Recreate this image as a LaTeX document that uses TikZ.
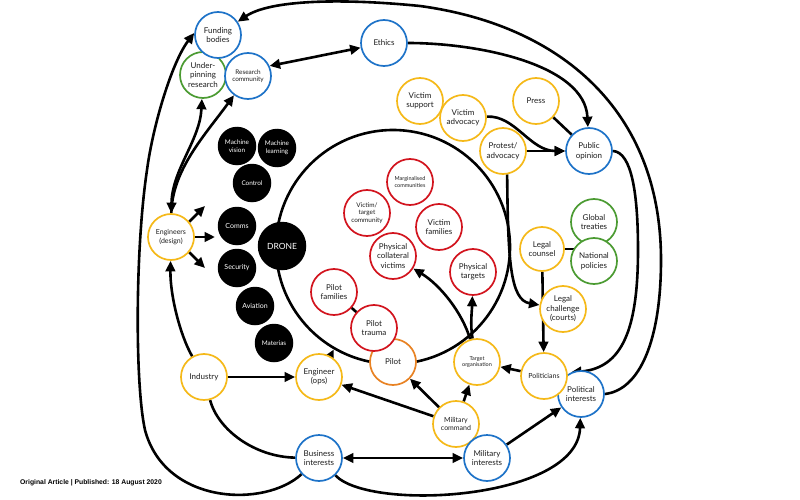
\documentclass[tikz,border=0pt]{standalone}
\usepackage{fontspec}
\setmainfont{Lato}
\newfontfamily\footfont{Liberation Sans}
\usetikzlibrary{arrows.meta}
\pgfdeclarelayer{bottom}
\pgfdeclarelayer{background}
\pgfsetlayers{bottom,background,main}
\definecolor{cblue}{RGB}{30,115,200}
\definecolor{cyellow}{RGB}{245,185,25}
\definecolor{cgreen}{RGB}{75,155,50}
\definecolor{cred}{RGB}{210,20,30}
\definecolor{corange}{RGB}{232,130,35}
\definecolor{ctext}{RGB}{30,30,30}
\begin{document}
\begin{tikzpicture}[x=1pt,y=-1pt,
  f8/.style={font=\fontsize{8}{9.5}\selectfont},
  f7/.style={font=\fontsize{7}{8.5}\selectfont},
  f65/.style={font=\fontsize{6.4}{7.6}\selectfont},
  f55/.style={font=\fontsize{5.5}{6.6}\selectfont},
  base/.style={circle, draw, line width=1.7pt, fill=white, inner sep=0pt, minimum size=46pt, align=center, f8, text=ctext},
  bl/.style={base, draw=cblue},
  ye/.style={base, draw=cyellow},
  gr/.style={base, draw=cgreen},
  rd/.style={base, draw=cred},
  orn/.style={base, draw=corange},
  blk/.style={circle, fill=black, draw=none, minimum size=38.5pt, inner sep=0pt, align=center, text=white, font=\fontsize{6.4}{7.6}\selectfont},
  conn/.style={line width=2.6pt, draw=black},
  arr/.style={conn, -{Triangle[length=10.5pt,width=9.5pt]}},
  darr/.style={conn, {Triangle[length=10.5pt,width=9.5pt]}-{Triangle[length=10.5pt,width=9.5pt]}}
]
\useasboundingbox (0,0) rectangle (800,500);
\begin{pgfonlayer}{bottom}
\fill[white] (0,0) rectangle (800,500);
\end{pgfonlayer}

% big sphere
\node[circle, draw, line width=2.6pt, minimum size=234pt, inner sep=0pt] (sphere) at (393,247) {};

% top-left cluster
\node[gr] (under) at (203,75) {Under-\\pinning\\research};
\node[bl, f65] (rescom) at (248,76) {Research\\community};
\node[bl] (fund) at (218,35) {Funding\\bodies};
\node[bl] (ethics) at (384,43) {Ethics};

% victims / public
\node[ye] (vsupp) at (420,101) {Victim\\support};
\node[ye] (vadv) at (463,118) {Victim\\advocacy};
\node[ye] (press) at (536,101) {Press};
\node[ye] (protest) at (503,151) {Protest/\\advocacy};
\node[bl] (pubop) at (589,151) {Public\\opinion};

% inside sphere
\node[rd, f55] (marg) at (410,182) {Marginalised\\communities};
\node[rd, f65] (vtc) at (367,213) {Victim/\\target\\community};
\node[rd] (vfam) at (439,227) {Victim\\families};
\node[rd] (pcv) at (393,256) {Physical\\collateral\\victims};
\node[rd] (ptar) at (473,272) {Physical\\targets};
\node[rd] (pfam) at (334,292) {Pilot\\families};
\node[orn] (pilot) at (393,362) {Pilot};
\node[rd] (ptrauma) at (374,328) {Pilot\\trauma};
\node[ye, f55] (torg) at (477,362) {Target\\organisation};

% black technology nodes
\node[blk] (mvis) at (237,146) {Machine\\vision};
\node[blk] (mlearn) at (277,148) {Machine\\learning};
\node[blk] (control) at (252,183) {Control};
\node[blk, font=\fontsize{7}{8}\selectfont] (comms) at (237,226) {Comms};
\node[blk, font=\fontsize{7}{8}\selectfont] (security) at (237,268) {Security};
\node[blk, font=\fontsize{7}{8}\selectfont] (aviation) at (255,306) {Aviation};
\node[blk] (materias) at (274,343) {Materias};
\node[blk, minimum size=48.5pt, font=\fontsize{8.5}{9}\selectfont] (drone) at (282,246) {DRONE};

% left side
\node[ye, f7] (engd) at (171,237) {Engineers\\(design)};
\coordinate (ea1) at (205,206);
\coordinate (ea2) at (215,237);
\coordinate (ea3) at (205,268);
\node[ye] (industry) at (204,377) {Industry};
\node[ye] (engops) at (319,377) {Engineer\\(ops)};

% right side
\node[ye, minimum size=44pt] (legal) at (542,249) {Legal\\counsel};
\node[gr] (global) at (594,222) {Global\\treaties};
\node[gr] (natpol) at (594,261) {National\\policies};
\node[ye] (legalch) at (563,309) {Legal\\challenge\\(courts)};
\node[bl] (polint) at (581,394) {Political\\interests};
\node[ye, f7] (politicians) at (544,376) {Politicians};

% bottom
\node[ye, f7] (milcmd) at (456,424) {Military\\command};
\node[bl] (milint) at (487,458) {Military\\interests};
\node[bl] (bus) at (319,458) {Business\\interests};

\node[font=\footfont\bfseries\fontsize{6.8}{8}\selectfont, anchor=west, inner sep=0pt, text=black] (footer) at (20,483) {Original Article | Published: 18 August 2020};

\begin{pgfonlayer}{background}
% outermost: political interests -> funding bodies
\draw[arr] (polint.east) .. controls (640,390) and (661,340) .. (661,260)
  .. controls (661,110) and (560,25) .. (420,6)
  .. controls (340,-2) and (270,0) .. (fund);
% public opinion -> political interests
\draw[arr] (pubop.east) .. controls (632,152) and (638,195) .. (638,250)
  .. controls (638,330) and (622,368) .. (polint.115);
% ethics -> public opinion
\draw[arr] (ethics) .. controls (480,43) and (585,65) .. (pubop);
% research community <-> ethics
\draw[darr] (rescom.25) -- (ethics);
% business interests -> funding bodies
\draw[arr] (bus) .. controls (265,508) and (165,505) .. (145,430)
  .. controls (135,385) and (135,250) .. (147,170)
  .. controls (153,125) and (172,62) .. (fund.175);
% engineers (design)
\draw[darr] (engd) .. controls (172,170) and (200,140) .. (under);
\draw[arr] (engd) .. controls (172,170) and (205,135) .. (rescom);
\draw[arr] (engd.40) -- (ea1);
\draw[arr] (engd.east) -- (ea2);
\draw[arr] (engd.-40) -- (ea3);
% industry
\draw[arr] (industry) .. controls (180,335) and (170,295) .. (engd);
\draw[conn] (industry) .. controls (218,430) and (255,457) .. (bus);
\draw[arr] (industry) -- (engops);
\draw[arr] (engops) -- (sphere.240);
% business / military / political
\draw[arr] (bus) .. controls (370,512) and (578,500) .. (polint);
\draw[darr] (bus) -- (milint);
\draw[arr] (milint) -- (polint);
\draw[arr] (milcmd) -- (engops);
\draw[arr] (milcmd) -- (pilot);
\draw[arr] (milcmd) -- (torg);
\draw[arr] (politicians) -- (torg);
% target organisation
\draw[arr] (torg) .. controls (470,325) and (472,310) .. (ptar);
\draw[arr] (torg) .. controls (462,312) and (440,285) .. (pcv);
% pilot
\draw[conn] (ptrauma) -- (pfam);
% legal
\draw[arr] (legal) -- (politicians);
\draw[conn] (legal.east) -- (legal.east -| natpol.center);
\draw[arr] (protest.-80) .. controls (508,260) and (510,300) .. (legalch);
% public opinion inputs
\draw[arr] (protest) -- (pubop);
\draw[arr] (vadv) .. controls (515,115) and (530,151) .. (pubop);
\draw[conn] (press) -- (pubop);
\end{pgfonlayer}
\end{tikzpicture}
\end{document}
